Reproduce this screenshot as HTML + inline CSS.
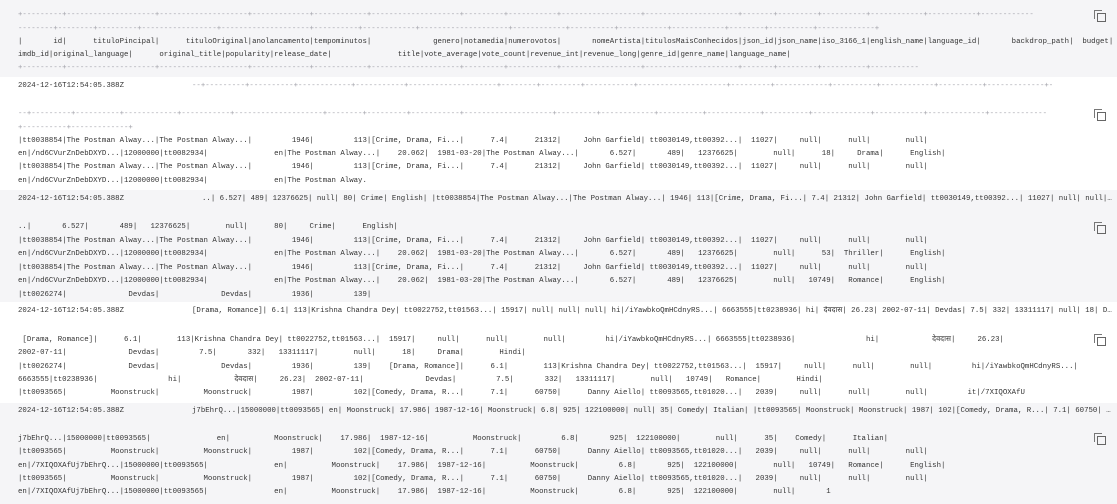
<!DOCTYPE html>
<html><head><meta charset="utf-8"><style>
*{margin:0;padding:0;box-sizing:border-box}
body{width:1117px;height:504px;overflow:hidden;background:#fff;position:relative;font-family:"Liberation Mono","DejaVu Sans Mono",monospace;font-size:7.36px;color:#333}
.bg{position:absolute;left:0;width:1117px;background:#f5f5f7}
.l{position:absolute;left:18px;white-space:pre;line-height:10px;height:10px}
.d{color:#a0a0a8}
.p{position:absolute;left:192px;width:920px;white-space:nowrap;overflow:hidden;text-overflow:ellipsis;line-height:10px}
.ic{position:absolute;left:1094px;width:11px;height:11px}
.ic:before{content:"";position:absolute;left:0;top:0;width:7px;height:8px;border:1.2px solid #777;border-right:none;border-bottom:none}
.ic:after{content:"";position:absolute;left:2.5px;top:2.5px;width:7px;height:7.5px;border:1.5px solid #666;background:transparent}
</style></head><body>
<div class="bg" style="top:0;height:77px"></div>
<div class="bg" style="top:190px;height:112px"></div>
<div class="bg" style="top:403px;height:101px"></div>

<div class="ic" style="top:10px"></div>
<div class="ic" style="top:109px"></div>
<div class="ic" style="top:222px"></div>
<div class="ic" style="top:334px"></div>
<div class="ic" style="top:433px"></div>

<!-- Block 1 -->
<div class="l d" style="top:10px">+---------+--------------------+--------------------+-------------+------------+--------------------+---------+-----------+------------------+---------------------+-------+---------+----------+------------+-----------+------------</div>
<div class="l d" style="top:24px">--------+--------+---------+-----------------+--------------------+----------+------------+--------------------+------------+----------+-----------+------------+--------+----------+-------------+</div>
<div class="l" style="top:37px">|       id|      tituloPincipal|      tituloOriginal|anolancamento|tempominutos|              genero|notamedia|numerovotos|       nomeArtista|titulosMaisConhecidos|json_id|json_name|iso_3166_1|english_name|language_id|       backdrop_path|  budget|</div>
<div class="l" style="top:50px">imdb_id|original_language|      original_title|popularity|release_date|               title|vote_average|vote_count|revenue_int|revenue_long|genre_id|genre_name|language_name|</div>
<div class="l d" style="top:63px">+---------+--------------------+--------------------+-------------+------------+--------------------+---------+-----------+------------------+---------------------+-------+---------+----------+-----------</div>

<!-- Entry 2 -->
<div class="l" style="top:81px">2024-12-16T12:54:05.388Z</div>
<div class="p d" style="top:81px;width:860px;text-overflow:clip">--+---------+----------+------------+-----------+--------------------+--------+---------+-----------+--------------------+---------+------------+----------+------------+----------+-------------+-----------+-----------------+----------+------------+-------------+-----------+---------+--------------</div>
<div class="l d" style="top:109px">--+---------+----------+------------+-----------+--------------------+--------+---------+-----------+--------------------+---------+------------+----------+------------+----------+-------------+-----------+-------------+-------------</div>
<div class="l d" style="top:123px">+----------+-------------+</div>
<div class="l" style="top:136px">|tt0038854|The Postman Alway...|The Postman Alway...|         1946|         113|[Crime, Drama, Fi...|      7.4|      21312|     John Garfield| tt0030149,tt00392...|  11027|     null|      null|        null|</div>
<div class="l" style="top:149px">en|/nd6CVurZnDebDXYD...|12000000|tt0082934|               en|The Postman Alway...|    20.062|  1981-03-20|The Postman Alway...|       6.527|       489|   12376625|        null|      18|     Drama|      English|</div>
<div class="l" style="top:162px">|tt0038854|The Postman Alway...|The Postman Alway...|         1946|         113|[Crime, Drama, Fi...|      7.4|      21312|     John Garfield| tt0030149,tt00392...|  11027|     null|      null|        null|</div>
<div class="l" style="top:176px">en|/nd6CVurZnDebDXYD...|12000000|tt0082934|               en|The Postman Alway.</div>

<!-- Entry 3 -->
<div class="l" style="top:194px">2024-12-16T12:54:05.388Z</div>
<div class="p" style="top:194px;left:202px;width:910px">..| 6.527| 489| 12376625| null| 80| Crime| English| |tt0038854|The Postman Alway...|The Postman Alway...| 1946| 113|[Crime, Drama, Fi...| 7.4| 21312| John Garfield| tt0030149,tt00392...| 11027| null| null| null| null</div>
<div class="l" style="top:222px">..|       6.527|       489|   12376625|        null|      80|     Crime|      English|</div>
<div class="l" style="top:236px">|tt0038854|The Postman Alway...|The Postman Alway...|         1946|         113|[Crime, Drama, Fi...|      7.4|      21312|     John Garfield| tt0030149,tt00392...|  11027|     null|      null|        null|</div>
<div class="l" style="top:249px">en|/nd6CVurZnDebDXYD...|12000000|tt0082934|               en|The Postman Alway...|    20.062|  1981-03-20|The Postman Alway...|       6.527|       489|   12376625|        null|      53|  Thriller|      English|</div>
<div class="l" style="top:263px">|tt0038854|The Postman Alway...|The Postman Alway...|         1946|         113|[Crime, Drama, Fi...|      7.4|      21312|     John Garfield| tt0030149,tt00392...|  11027|     null|      null|        null|</div>
<div class="l" style="top:276px">en|/nd6CVurZnDebDXYD...|12000000|tt0082934|               en|The Postman Alway...|    20.062|  1981-03-20|The Postman Alway...|       6.527|       489|   12376625|        null|   10749|   Romance|      English|</div>
<div class="l" style="top:290px">|tt0026274|              Devdas|              Devdas|         1936|         139|</div>

<!-- Entry 4 -->
<div class="l" style="top:306px">2024-12-16T12:54:05.388Z</div>
<div class="p" style="top:306px">[Drama, Romance]| 6.1| 113|Krishna Chandra Dey| tt0022752,tt01563...| 15917| null| null| null| hi|/iYawbkoQmHCdnyRS...| 6663555|tt0238936| hi| देवदास| 26.23| 2002-07-11| Devdas| 7.5| 332| 13311117| null| 18| Drama| Hindi|</div>
<div class="l" style="top:335px"> [Drama, Romance]|      6.1|        113|Krishna Chandra Dey| tt0022752,tt01563...|  15917|     null|      null|        null|         hi|/iYawbkoQmHCdnyRS...| 6663555|tt0238936|                hi|            देवदास|     26.23|</div>
<div class="l" style="top:348px">2002-07-11|              Devdas|         7.5|       332|   13311117|        null|      18|     Drama|        Hindi|</div>
<div class="l" style="top:362px">|tt0026274|              Devdas|              Devdas|         1936|         139|    [Drama, Romance]|      6.1|        113|Krishna Chandra Dey| tt0022752,tt01563...|  15917|     null|      null|        null|         hi|/iYawbkoQmHCdnyRS...|</div>
<div class="l" style="top:375px">6663555|tt0238936|                hi|            देवदास|     26.23|  2002-07-11|              Devdas|         7.5|       332|   13311117|        null|   10749|   Romance|        Hindi|</div>
<div class="l" style="top:388px">|tt0093565|          Moonstruck|          Moonstruck|         1987|         102|[Comedy, Drama, R...|      7.1|      60750|      Danny Aiello| tt0093565,tt01020...|   2039|     null|      null|        null|         it|/7XIQOXAfU</div>

<!-- Entry 5 -->
<div class="l" style="top:406px">2024-12-16T12:54:05.388Z</div>
<div class="p" style="top:406px">j7bEhrQ...|15000000|tt0093565| en| Moonstruck| 17.986| 1987-12-16| Moonstruck| 6.8| 925| 122100000| null| 35| Comedy| Italian| |tt0093565| Moonstruck| Moonstruck| 1987| 102|[Comedy, Drama, R...| 7.1| 60750| Danny Aiello| tt0093565</div>
<div class="l" style="top:434px">j7bEhrQ...|15000000|tt0093565|               en|          Moonstruck|    17.986|  1987-12-16|          Moonstruck|         6.8|       925|  122100000|        null|      35|    Comedy|      Italian|</div>
<div class="l" style="top:447px">|tt0093565|          Moonstruck|          Moonstruck|         1987|         102|[Comedy, Drama, R...|      7.1|      60750|      Danny Aiello| tt0093565,tt01020...|   2039|     null|      null|        null|</div>
<div class="l" style="top:461px">en|/7XIQOXAfUj7bEhrQ...|15000000|tt0093565|               en|          Moonstruck|    17.986|  1987-12-16|          Moonstruck|         6.8|       925|  122100000|        null|   10749|   Romance|      English|</div>
<div class="l" style="top:474px">|tt0093565|          Moonstruck|          Moonstruck|         1987|         102|[Comedy, Drama, R...|      7.1|      60750|      Danny Aiello| tt0093565,tt01020...|   2039|     null|      null|        null|</div>
<div class="l" style="top:487px">en|/7XIQOXAfUj7bEhrQ...|15000000|tt0093565|               en|          Moonstruck|    17.986|  1987-12-16|          Moonstruck|         6.8|       925|  122100000|        null|       1</div>
</body></html>
